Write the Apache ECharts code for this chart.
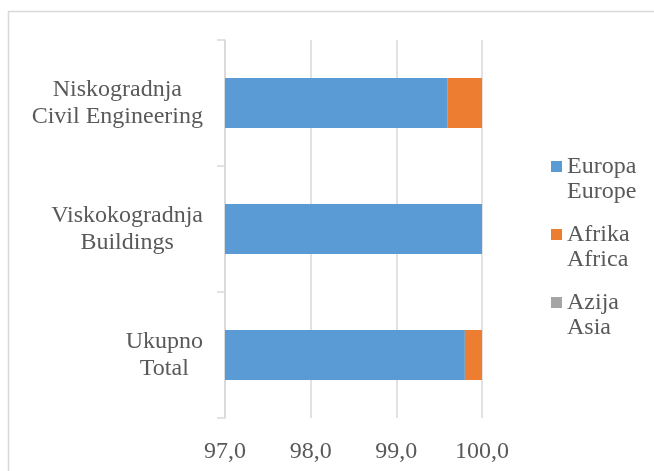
<!DOCTYPE html>
<html>
<head>
<meta charset="utf-8">
<script src="https://cdn.jsdelivr.net/npm/echarts@6/dist/echarts.min.js"></script>
<style>
html,body{margin:0;padding:0;background:#fff;}
#c{width:654px;height:471px;}
</style>
</head>
<body>
<div id="c"></div>
<script>
const categories = ['Ukupno\nTotal', 'Viskokogradnja\nBuildings', 'Niskogradnja\nCivil Engineering'];
const seriesNames = ['Europa\nEurope', 'Afrika\nAfrica', 'Azija\nAsia'];
const europe = [99.8, 100.0, 99.6];
const africa = [0.2, 0.0, 0.4];
const asia = [0.0, 0.0, 0.0];
const xTicks = [97, 98, 99, 100];

const FONT = '"Liberation Serif", "DejaVu Serif", serif';
const TXT = '#595959';
const colors = ['#5B9BD5', '#ED7D31', '#A5A5A5'];

const chart = echarts.init(document.getElementById('c'));
const seriesData = [europe, africa, asia];

chart.setOption({
  animation: false,
  backgroundColor: '#ffffff',
  color: colors,
  graphic: [{
    type: 'rect',
    shape: {x: 8.5, y: 11.5, width: 700, height: 500},
    style: {fill: 'none', stroke: '#D9D9D9', lineWidth: 1.5},
    silent: true
  }],
  grid: {left: 225, right: 172, top: 40, bottom: 53},
  xAxis: {
    type: 'value',
    min: xTicks[0],
    max: xTicks[xTicks.length - 1],
    interval: 1,
    axisLine: {show: false},
    axisTick: {show: false},
    splitLine: {show: true, lineStyle: {color: '#D9D9D9', width: 1.5}},
    axisLabel: {
      margin: 22,
      color: TXT,
      fontFamily: FONT,
      fontSize: 24,
      formatter: v => v.toFixed(1).replace('.', ',')
    }
  },
  yAxis: {
    type: 'category',
    data: categories,
    axisLine: {show: true, lineStyle: {color: '#D9D9D9', width: 1.5}},
    axisTick: {show: true, length: 8, lineStyle: {color: '#D9D9D9', width: 1.5}},
    axisLabel: {
      margin: 22,
      align: 'right',
      formatter: v => v.split('\n').map(s => '{c|' + s + '}').join('\n'),
      rich: {
        c: {align: 'center', fontFamily: FONT, fontSize: 24, lineHeight: 27, color: TXT}
      }
    }
  },
  legend: {
    orient: 'vertical',
    left: 551,
    top: 129,
    itemWidth: 11,
    itemHeight: 11,
    itemGap: -7,
    icon: 'rect',
    padding: 0,
    data: seriesNames,
    formatter: n => ' \n' + n,
    textStyle: {
      fontFamily: FONT,
      fontSize: 24,
      lineHeight: 25,
      color: TXT
    }
  },
  series: seriesNames.map((n, i) => ({
    name: n,
    type: 'bar',
    stack: 'total',
    barWidth: 50,
    data: seriesData[i]
  }))
});
</script>
</body>
</html>
